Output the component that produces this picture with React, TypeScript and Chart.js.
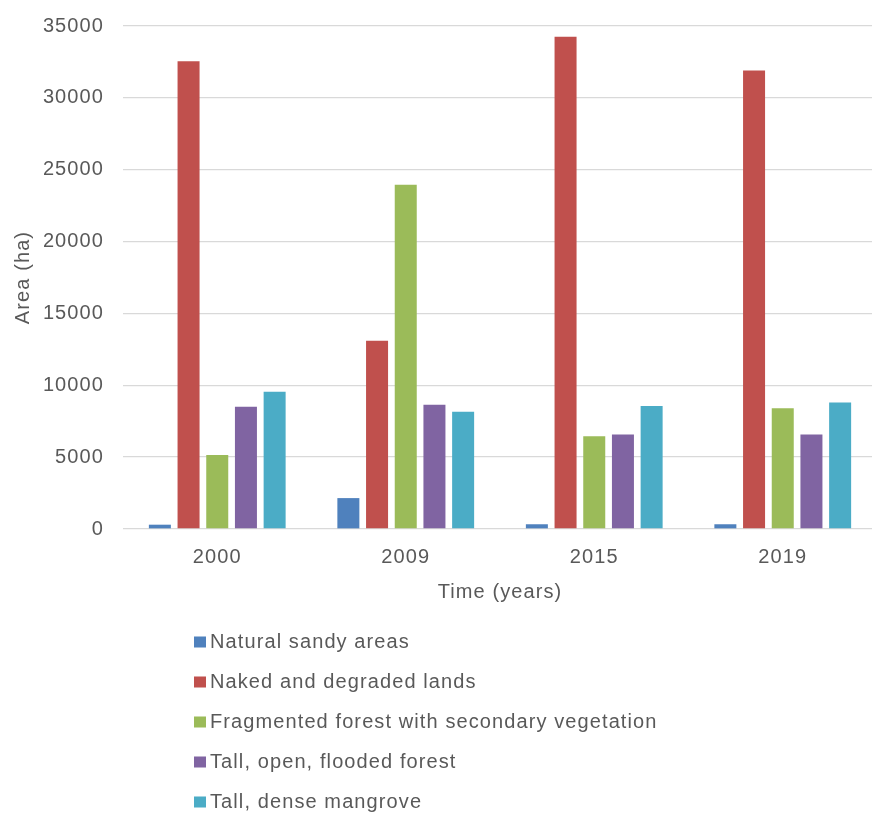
import React, { useEffect, useRef } from "react";
import { Chart, registerables } from "chart.js";

Chart.register(...registerables);

const categories = ["2000", "2009", "2015", "2019"];
const seriesNames = [
  "Natural sandy areas",
  "Naked and degraded lands",
  "Fragmented forest with secondary vegetation",
  "Tall, open, flooded forest",
  "Tall, dense mangrove",
];
const naturalSandy = [300, 2150, 330, 330];
const nakedDegraded = [32550, 13100, 34250, 31900];
const fragmentedForest = [5150, 23950, 6450, 8400];
const tallOpenFlooded = [8500, 8650, 6580, 6580];
const tallDenseMangrove = [9550, 8150, 8550, 8800];
const seriesColors = ["#4F81BD", "#C0504D", "#9BBB59", "#8064A2", "#4BACC6"];
const yTicks = [0, 5000, 10000, 15000, 20000, 25000, 30000, 35000];

const FONT = "'Liberation Sans', Arial, sans-serif";
const TEXT = "#595959";
const SPACING = "1.1px";
const SHIFT = 5;

const letterSpacingPlugin = {
  id: "letterSpacing",
  beforeInit(chart: any) {
    chart.ctx.letterSpacing = SPACING;
  },
  beforeLayout(chart: any) {
    chart.ctx.letterSpacing = SPACING;
  },
  beforeDraw(chart: any) {
    chart.ctx.letterSpacing = SPACING;
  },
};

const verticalLegend = {
  id: "verticalLegend",
  afterDraw(chart: any) {
    const ctx = chart.ctx;
    ctx.save();
    ctx.letterSpacing = SPACING;
    ctx.font = `20px ${FONT}`;
    ctx.textBaseline = "middle";
    ctx.textAlign = "left";
    chart.data.datasets.forEach((ds: any, i: number) => {
      const cy = chart.chartArea.bottom + 112.5 + i * 40;
      ctx.fillStyle = ds.backgroundColor;
      ctx.fillRect(194, cy - 5, 12, 11);
      ctx.fillStyle = TEXT;
      ctx.fillText(ds.label, 210, cy + 1);
    });
    ctx.restore();
  },
};

export default function App() {
  const ref = useRef<HTMLCanvasElement | null>(null);
  useEffect(() => {
    if (!ref.current) return;
    const values = [naturalSandy, nakedDegraded, fragmentedForest, tallOpenFlooded, tallDenseMangrove];
    const chart = new Chart(ref.current, {
      type: "bar",
      data: {
        labels: categories,
        datasets: values.map((v, i) => ({
          label: seriesNames[i],
          data: v,
          backgroundColor: seriesColors[i],
          barPercentage: 0.767,
          categoryPercentage: 0.761,
        })),
      },
      options: {
        responsive: false,
        animation: false,
        layout: { padding: { top: 20, left: 0, right: 3, bottom: 0 } },
        plugins: {
          legend: { display: false },
          tooltip: { enabled: false },
        },
        scales: {
          x: {
            grid: { display: false, drawTicks: false },
            border: { display: false },
            ticks: { color: TEXT, font: { family: FONT, size: 20 }, padding: 16 },
            title: {
              display: true,
              text: "Time (years)",
              color: TEXT,
              font: { family: FONT, size: 20 },
              padding: { top: 0, bottom: 215 },
            },
            afterFit: (s: any) => {
              s.height = 290;
            },
          },
          y: {
            min: 0,
            max: 35000,
            grid: { color: "#d9d9d9", lineWidth: 1.3, drawTicks: false },
            border: { display: false },
            afterBuildTicks: (s: any) => {
              s.ticks = yTicks.map((v) => ({ value: v }));
            },
            ticks: {
              color: TEXT,
              font: { family: FONT, size: 20 },
              padding: 19,
              callback: (v: any) => String(v),
            },
            title: {
              display: true,
              text: "Area (ha)",
              color: TEXT,
              font: { family: FONT, size: 20 },
              padding: { top: 11, bottom: 0 },
            },
            afterFit: (s: any) => {
              s.width = 123;
            },
          },
        },
      },
      plugins: [letterSpacingPlugin, verticalLegend],
    });
    return () => chart.destroy();
  }, []);
  return (
    <div style={{ position: "fixed", left: 0, top: 0, width: 872, height: 819, overflow: "hidden", background: "#fff" }}>
      <canvas
        ref={ref}
        width={880}
        height={819 + SHIFT}
        style={{ display: "block", width: 880, height: 819 + SHIFT, marginTop: -SHIFT }}
      />
    </div>
  );
}
